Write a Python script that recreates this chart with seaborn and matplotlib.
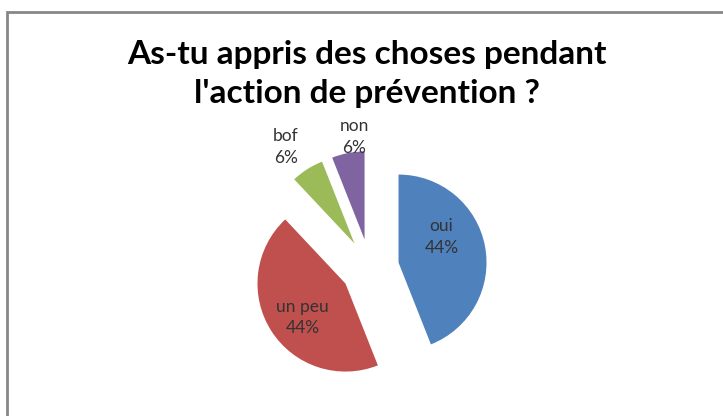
import numpy as np
import seaborn as sns
import matplotlib.pyplot as plt
from matplotlib.patches import Rectangle

# donnees du camembert
categories = ["oui", "un peu", "bof", "non"]
valeurs = [44, 44, 6, 6]
couleurs = ["#4F81BD", "#C0504D", "#9BBB59", "#8064A2"]
titre = "As-tu appris des choses pendant\nl'action de prévention ?"

# placement des etiquettes : (distance en rayons, decalage d'angle en degres) depuis le centre de la part
place_etiquettes = [(0.57, 20), (0.62, 6), (1.35, 3), (1.17, -5)]

sns.set_theme(style="white")
plt.rcParams['font.family'] = ['Lato', 'DejaVu Sans']

W, H = 723, 416
fig = plt.figure(figsize=(W / 100, H / 100), dpi=100)
ax = fig.add_axes([0, 0, 1, 1])

# cadre gris du graphique (style Excel)
fig.patches.append(Rectangle((7 / W, -0.05), 1.1, (H - 12) / H + 0.05, transform=fig.transFigure,
                             fill=False, edgecolor="#878787", linewidth=2))

wedges, _ = ax.pie(valeurs, colors=sns.color_palette(couleurs), startangle=90, counterclock=False,
                   explode=[0.33] * len(valeurs), radius=1.0,
                   wedgeprops=dict(linewidth=0))

# etiquettes "categorie / pourcentage"
total = sum(valeurs)
for w, cat, v, (d, da) in zip(wedges, categories, valeurs, place_etiquettes):
    ang = np.deg2rad((w.theta1 + w.theta2) / 2 + da)
    cx, cy = w.center
    ax.text(cx + d * np.cos(ang), cy + d * np.sin(ang), f"{cat}\n{round(100 * v / total)}%",
            ha="center", va="center", fontsize=12.5, color="#333333", linespacing=1.45)

# echelle : 1 unite = 88 px, centre du camembert a (370, 268)
r = 88
cx_px, cy_px = 370, 268
ax.set_xlim(-cx_px / r, (W - cx_px) / r)
ax.set_ylim(-(H - cy_px) / r, cy_px / r)
ax.set_aspect("auto")
ax.axis("off")

fig.text(367 / W, 1 - 74 / H, titre, ha="center", va="center", fontsize=24, fontweight="bold",
         color="black", linespacing=1.42)

fig.savefig("out.png", dpi=100, facecolor="white")
